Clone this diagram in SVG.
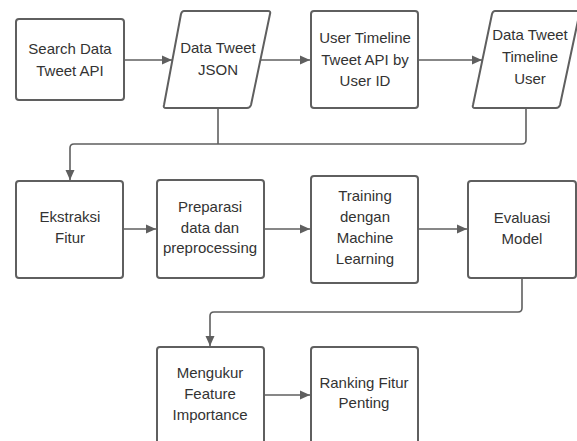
<svg xmlns="http://www.w3.org/2000/svg" width="577" height="441" viewBox="0 0 577 441">
<style>
.box{fill:#fff;stroke:#5f5f5f;stroke-width:2;stroke-linejoin:round}
.t{font-family:"Liberation Sans",Arial,sans-serif;font-size:15px;fill:#333;text-anchor:middle}
.c{fill:none;stroke:#5f5f5f;stroke-width:1.6}
</style>
<defs>
<marker id="ah" viewBox="0 0 10 10" refX="10" refY="5" markerWidth="10" markerHeight="10" markerUnits="userSpaceOnUse" orient="auto">
<path d="M0 0.5 L10 5 L0 9.5 Z" fill="#5f5f5f"/>
</marker>
</defs>
<rect width="577" height="441" fill="#fff"/>
<g id="connectors">
<path class="c" d="M124 60 H172" marker-end="url(#ah)"/>
<path class="c" d="M260 60 H310" marker-end="url(#ah)"/>
<path class="c" d="M418 60 H482" marker-end="url(#ah)"/>
<path class="c" d="M218 108 V144"/>
<path class="c" d="M526 108 V140 Q526 144 522 144 H74 Q70 144 70 148 V180" marker-end="url(#ah)"/>
<path class="c" d="M123 229 H156" marker-end="url(#ah)"/>
<path class="c" d="M264 229 H310" marker-end="url(#ah)"/>
<path class="c" d="M418 229 H467" marker-end="url(#ah)"/>
<path class="c" d="M522 278 V308 Q522 312 518 312 H214 Q210 312 210 316 V346" marker-end="url(#ah)"/>
<path class="c" d="M264 395 H310" marker-end="url(#ah)"/>
</g>
<g id="search-api">
<rect class="box" x="16" y="19" width="108" height="81" rx="3"/>
<text class="t" x="70" y="54">Search Data</text>
<text class="t" x="70" y="76">Tweet API</text>
</g>
<g id="data-json">
<path class="box" d="M184 11 H268 Q271 11 270 14 L251 105 Q250 108 247 108 H166 Q163 108 164 105 L181 14 Q182 11 184 11 Z"/>
<text class="t" x="218" y="53">Data Tweet</text>
<text class="t" x="218" y="75">JSON</text>
</g>
<g id="user-timeline-api">
<rect class="box" x="311" y="11" width="107" height="97" rx="3"/>
<text class="t" x="365" y="43">User Timeline</text>
<text class="t" x="365" y="65">Tweet API by</text>
<text class="t" x="365" y="86">User ID</text>
</g>
<g id="data-timeline">
<path class="box" d="M495 11 H580 L560 105 Q559 108 556 108 H475 Q472 108 473 105 L492 14 Q493 11 495 11 Z"/>
<text class="t" x="530" y="40">Data Tweet</text>
<text class="t" x="530" y="62">Timeline</text>
<text class="t" x="530" y="84">User</text>
</g>
<g id="ekstraksi">
<rect class="box" x="16" y="181" width="107" height="97" rx="3"/>
<text class="t" x="70" y="222">Ekstraksi</text>
<text class="t" x="70" y="243">Fitur</text>
</g>
<g id="preparasi">
<rect class="box" x="157" y="180" width="107" height="98" rx="3"/>
<text class="t" x="210" y="212">Preparasi</text>
<text class="t" x="210" y="233">data dan</text>
<text class="t" x="210" y="253">preprocessing</text>
</g>
<g id="training">
<rect class="box" x="311" y="176" width="107" height="107" rx="3"/>
<text class="t" x="365" y="201">Training</text>
<text class="t" x="365" y="222">dengan</text>
<text class="t" x="365" y="243">Machine</text>
<text class="t" x="365" y="264">Learning</text>
</g>
<g id="evaluasi">
<rect class="box" x="468" y="181" width="108" height="97" rx="3"/>
<text class="t" x="522" y="223">Evaluasi</text>
<text class="t" x="522" y="244">Model</text>
</g>
<g id="mengukur">
<rect class="box" x="157" y="347" width="107" height="110" rx="3"/>
<text class="t" x="210" y="378">Mengukur</text>
<text class="t" x="210" y="399">Feature</text>
<text class="t" x="210" y="420">Importance</text>
</g>
<g id="ranking">
<rect class="box" x="311" y="347" width="107" height="110" rx="3"/>
<text class="t" x="364" y="388">Ranking Fitur</text>
<text class="t" x="364" y="408">Penting</text>
</g>
</svg>
